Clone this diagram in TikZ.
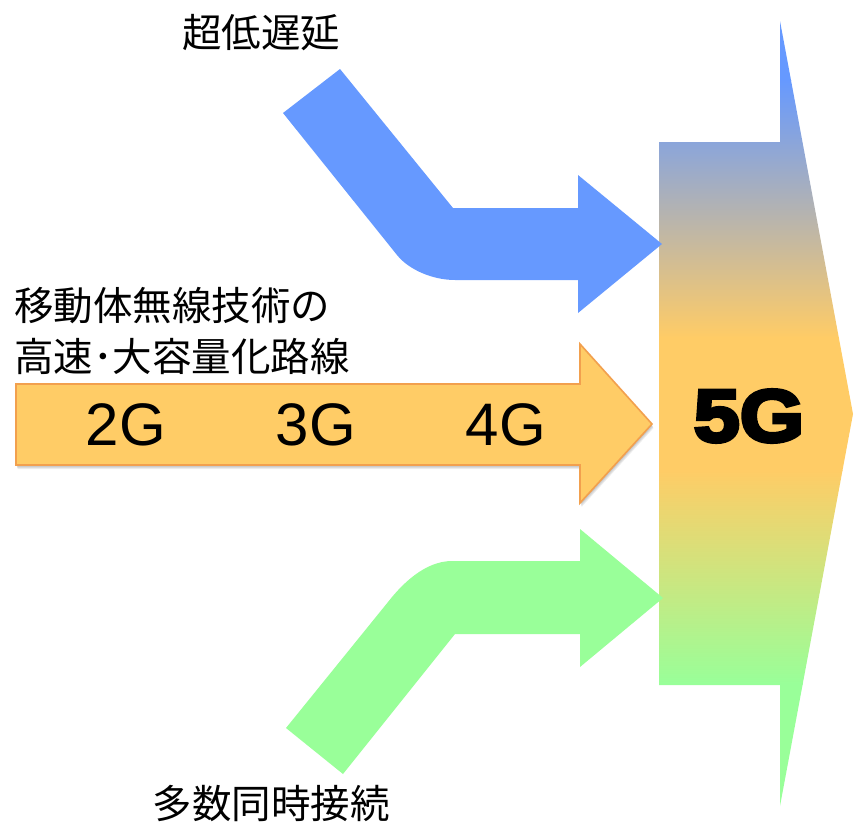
\documentclass[tikz,border=0pt]{standalone}
\usepackage{fontspec}
\setmainfont{Liberation Sans}
\newfontfamily\jpfont{Noto Sans CJK JP}
\newfontfamily\fivegfont{Liberation Sans Bold}[FakeStretch=1.12,FakeBold=5]
\usetikzlibrary{shadows}
\definecolor{cblue}{HTML}{6699FF}
\definecolor{corange}{HTML}{FFCC66}
\definecolor{cgreen}{HTML}{99FF99}
\definecolor{cedge}{HTML}{F2A04E}
\tikzset{
  jplabel/.style={inner sep=0pt, font=\jpfont\fontsize{39.5}{46}\selectfont},
  genlabel/.style={inner sep=0pt, font=\fontsize{60}{66}\selectfont},
}
\begin{document}
\begin{tikzpicture}[x=1pt,y=-1pt]
\useasboundingbox (0,0) rectangle (859,828);
% big 5G arrow with gradient
\begin{scope}
  \clip (659,142) -- (780,142) -- (780,21) -- (853,414) -- (780,806) -- (780,685) -- (659,685) -- cycle;
  \fill[cblue] (650,10) rectangle (860,81);
  \shade[top color=cblue, bottom color=corange] (650,80) rectangle (860,338);
  \fill[corange] (650,337) rectangle (860,471);
  \shade[top color=corange, bottom color=cgreen] (650,470) rectangle (860,684);
  \fill[cgreen] (650,683) rectangle (860,820);
\end{scope}
\node[inner sep=0pt, font=\fivegfont\fontsize{74}{80}\selectfont] (fiveg) at (749,416) {5G};
% blue bent arrow
\fill[cblue] (283,113) -- (340,69) -- (453,208) -- (578,208) -- (578,175) -- (662,244)
  -- (578,313) -- (578,280) -- (455,280) .. controls (433,280) and (409,270) .. (397,255) -- cycle;
% green bent arrow
\fill[cgreen] (286,728) -- (388,602) .. controls (402,584) and (425,561) .. (452,561)
  -- (580,561) -- (580,529) -- (663,598) -- (580,667) -- (580,634) -- (455,634) -- (343,774) -- cycle;
% orange straight arrow (soft shadow made of layers)
\foreach \s in {1.0,2.0,3.0,4.0}{
  \fill[black, opacity=0.07, xshift=\s*0.4pt, yshift=-\s*1pt]
    (16,384) -- (580,384) -- (580,344) -- (652,424) -- (580,503) -- (580,465) -- (16,465) -- cycle;
}
\filldraw[fill=corange, draw=cedge, line width=1.6pt, line join=miter]
  (16,384) -- (580,384) -- (580,344) -- (652,424) -- (580,503) -- (580,465) -- (16,465) -- cycle;
\node[genlabel] (g2) at (126,425) {2G};
\node[genlabel] (g3) at (316,425) {3G};
\node[genlabel] (g4) at (506,425) {4G};
% labels
\node[jplabel] (lowlat) at (261,33) {超低遅延};
\node[jplabel, anchor=west] (mob1) at (14,306) {移動体無線技術の};
\node[jplabel, anchor=west] (mob2) at (14,356) {高速･大容量化路線};
\node[jplabel] (multi) at (271,803) {多数同時接続};
\end{tikzpicture}
\end{document}
